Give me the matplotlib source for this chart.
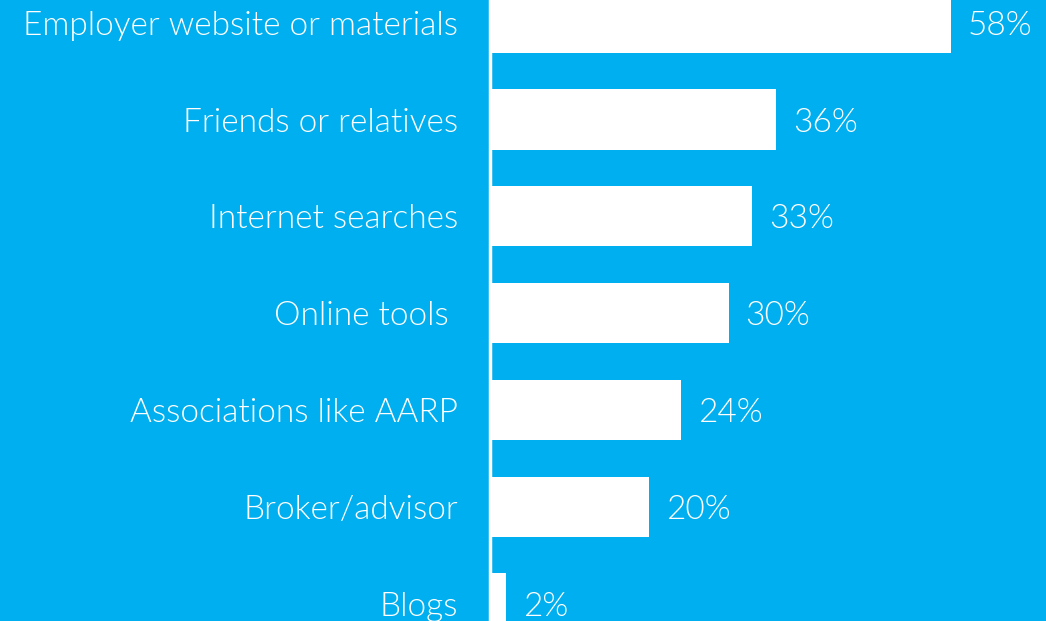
import matplotlib
matplotlib.use("Agg")
import matplotlib.pyplot as plt
import numpy as np

BG = "#00AFEF"

sources = [
    "Employer website or materials",
    "Friends or relatives",
    "Internet searches",
    "Online tools ",
    "Associations like AARP",
    "Broker/advisor",
    "Blogs",
]
shares = [58, 36, 33, 30, 24, 20, 2]

plt.rcParams["font.family"] = ["Lato", "DejaVu Sans"]

fig = plt.figure(figsize=(10.46, 6.21), dpi=100, facecolor=BG)
# data x=0 sits on the white axis line
ax = fig.add_axes([490 / 1046, 0, (1046 - 490) / 1046, 1])
ax.set_facecolor(BG)

y = np.arange(len(sources))
ax.barh(y, shares, height=0.62, color="white", edgecolor="none")

px_per_pct = 7.95
ax.set_xlim(0, (1046 - 490) / px_per_pct)
pitch = 96.8
top = -22.7 / pitch
ax.set_ylim(top + 621 / pitch, top)

for yi, v in zip(y, shares):
    ax.annotate(f"{v}%", (v, yi), xytext=(17, 0), textcoords="offset pixels",
                ha="left", va="center_baseline", color="white", fontsize=24,
                fontweight=300)

ax.set_yticks(y)
ax.set_yticklabels(sources, fontsize=24, color="white", va="center_baseline",
                   fontweight=300)
ax.tick_params(axis="y", length=0, pad=23)
ax.set_xticks([])

for side in ["top", "right", "bottom"]:
    ax.spines[side].set_visible(False)
ax.spines["left"].set_color("white")
ax.spines["left"].set_linewidth(2.5)

fig.savefig("out.png", dpi=100, facecolor=BG)
